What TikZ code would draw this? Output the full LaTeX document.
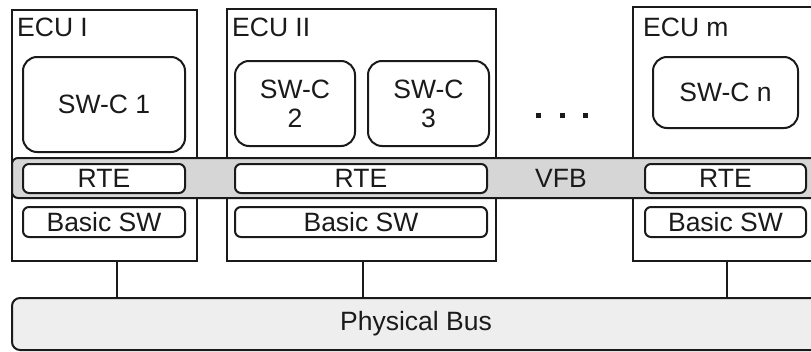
\documentclass[tikz,border=0pt]{standalone}
\usepackage{fontspec}
\setmainfont{Liberation Sans}
\newcommand\dfs{\fontsize{26.5}{30}\selectfont}
\definecolor{ink}{HTML}{1A1A1A}
\definecolor{vfbgray}{HTML}{D6D6D6}
\definecolor{busgray}{HTML}{EEEEEE}
\tikzset{
  ln/.style={line width=2pt, draw=ink},
  ecubox/.style={ln, rectangle, fill=white, inner sep=0pt},
  ecutext/.style={anchor=base west, inner sep=0pt, font=\dfs, text=ink},
  swc/.style={ln, rectangle, rounded corners=14pt, fill=white, align=center, font=\dfs, text=ink, inner sep=0pt},
  layerbox/.style={ln, rectangle, rounded corners=6pt, fill=white, font=\dfs, text=ink, inner sep=0pt},
  band/.style={ln, rectangle, rounded corners=6pt, fill=vfbgray, inner sep=0pt},
  busbox/.style={ln, rectangle, rounded corners=8pt, fill=busgray, font=\dfs, text=ink, inner sep=0pt},
  dotsq/.style={rectangle, fill=ink, minimum size=5pt, inner sep=0pt},
  conn/.style={ln},
}
\begin{document}
\begin{tikzpicture}[x=1pt, y=-1pt]
\useasboundingbox (0,0) rectangle (811,351);
\clip (0,0) rectangle (811,351);
% ECU boxes
\node[ecubox, minimum width=185pt, minimum height=251pt] (e1) at (104.5,135.5) {};
\node[ecubox, minimum width=269pt, minimum height=252pt] (e2) at (361.5,135) {};
\node[ecubox, minimum width=188pt, minimum height=254pt] (em) at (727,134) {};
\node[ecutext] (l1) at (17,36) {ECU I};
\node[ecutext] (l2) at (232,36) {ECU II};
\node[ecutext] (lm) at (643,36) {ECU m};
% software components
\node[swc, minimum width=162pt, minimum height=95pt] (s1) at (104,104.5) {SW-C 1};
\node[swc, minimum width=120pt, minimum height=85pt] (s2) at (295,103.5) {SW-C\\[-1pt]2};
\node[swc, minimum width=121pt, minimum height=85pt] (s3) at (428.5,103.5) {SW-C\\[-1pt]3};
\node[swc, minimum width=145pt, minimum height=71pt] (sn) at (725.5,92.5) {SW-C n};
% dots
\node[dotsq] (d1) at (538.5,115) {};
\node[dotsq] (d2) at (562,115) {};
\node[dotsq] (d3) at (585.5,115) {};
% VFB band
\node[band, minimum width=818pt, minimum height=40pt] (vfb) at (421,178) {};
\node[font=\dfs, text=ink, inner sep=0pt] (vfbl) at (561,178) {VFB};
% RTE
\node[layerbox, minimum width=162pt, minimum height=29pt] (r1) at (104,178.5) {RTE};
\node[layerbox, minimum width=252pt, minimum height=29pt] (r2) at (361,178.5) {RTE};
\node[layerbox, minimum width=161pt, minimum height=29pt] (rm) at (725.5,178.5) {RTE};
% Basic SW
\node[layerbox, minimum width=162pt, minimum height=30pt] (b1) at (104,222) {Basic SW};
\node[layerbox, minimum width=252pt, minimum height=30pt] (b2) at (361,222) {Basic SW};
\node[layerbox, minimum width=161pt, minimum height=30pt] (bm) at (725.5,222) {Basic SW};
% Physical bus
\node[busbox, minimum width=808pt, minimum height=52pt] (bus) at (416,324) {Physical Bus};
% connectors
\coordinate (c1) at (117,0);
\coordinate (c2) at (363,0);
\draw[conn] (e1.south -| c1) -- (bus.north -| c1);
\draw[conn] (e2.south -| c2) -- (bus.north -| c2);
\draw[conn] (em.south) -- (bus.north -| em.south);
\end{tikzpicture}
\end{document}
